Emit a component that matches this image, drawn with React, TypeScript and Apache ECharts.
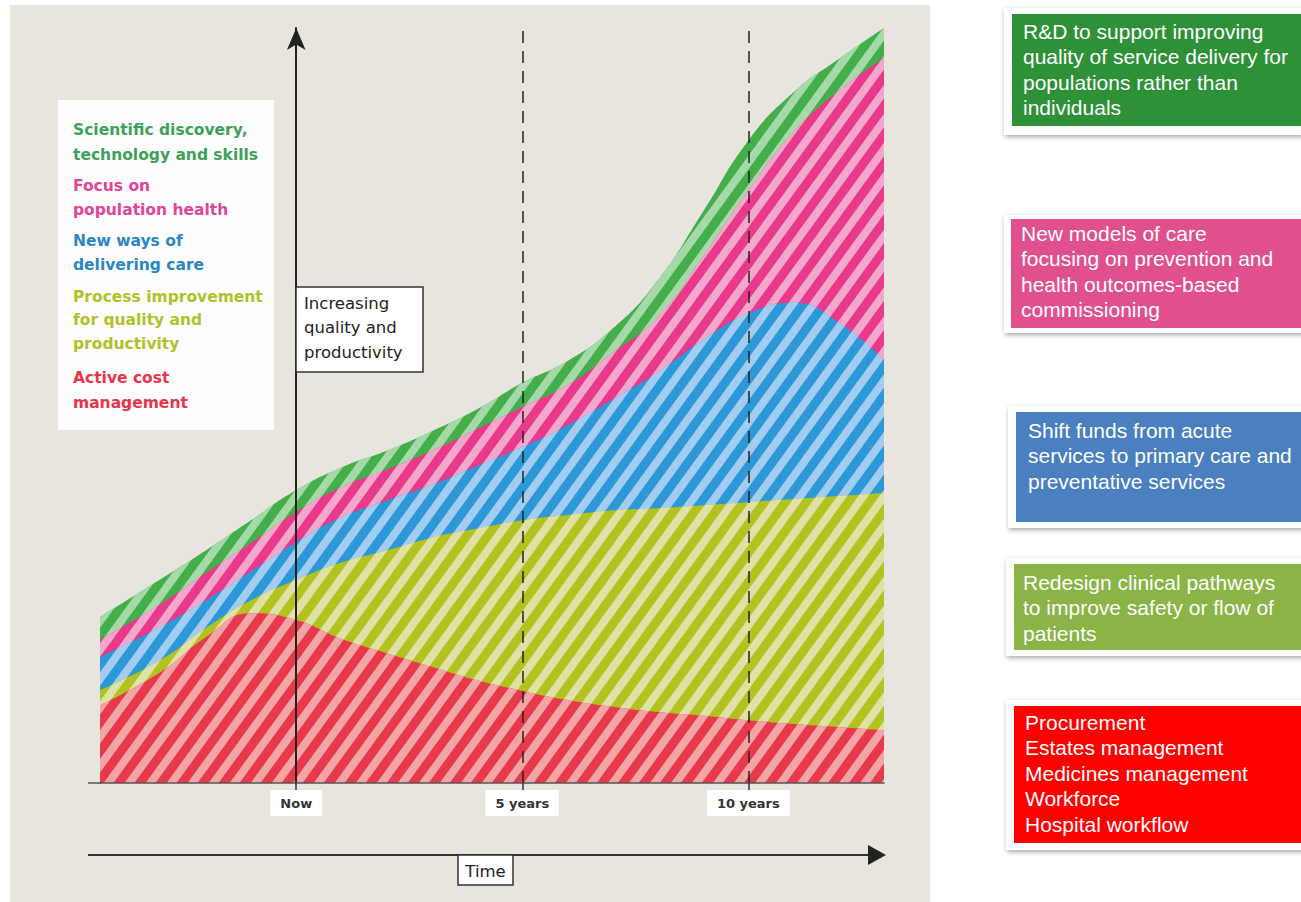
import React, { useEffect, useRef } from "react";
import * as echarts from "echarts";

// Time in years relative to "Now"
const years = [-4.34, -3, -2, -1, 0, 1, 2, 3, 4, 5, 6, 7, 8, 9, 10, 11, 12, 13];

// Stacked layers (bottom to top), relative units
const activeCost = [10.3, 14.7, 19.3, 22.5, 21.6, 19.1, 17.2, 15.4, 13.6, 12.2, 11.0, 10.1, 9.4, 8.9, 8.3, 7.8, 7.4, 7.0];
const processImprovement = [2.0, 1.6, 1.2, 1.7, 5.3, 10.1, 13.6, 17.1, 20.1, 22.6, 24.5, 26.0, 27.0, 27.9, 28.9, 29.8, 30.6, 31.4];
const newWays = [4.4, 4.4, 3.7, 3.8, 5.0, 6.0, 6.6, 7.0, 8.3, 9.7, 11.9, 14.7, 18.0, 21.9, 25.0, 26.0, 23.0, 17.6];
const populationHealth = [2.3, 3.0, 3.6, 3.8, 4.0, 4.0, 4.1, 4.5, 4.9, 5.3, 5.3, 6.2, 7.3, 11.0, 16.3, 22.6, 30.7, 40.0];
const scientific = [3.0, 3.3, 3.0, 3.0, 2.9, 2.6, 2.5, 2.6, 2.6, 3.2, 3.2, 3.2, 4.9, 6.0, 6.6, 5.3, 4.2, 4.0];

const tickValues = [0, 5, 10];
const tickLabels = ["Now", "5 years", "10 years"];
const milestoneLines = [5, 10];

const layers = [
  { name: "Active cost management", values: activeCost, base: "#e8394b", light: "#f3a4a5" },
  { name: "Process improvement for quality and productivity", values: processImprovement, base: "#b2c21e", light: "#dfe2a6" },
  { name: "New ways of delivering care", values: newWays, base: "#2d98d8", light: "#a2cdf0" },
  { name: "Focus on population health", values: populationHealth, base: "#e8398a", light: "#f3a7cb" },
  { name: "Scientific discovery, technology and skills", values: scientific, base: "#44ae4a", light: "#a6d9a8" },
];

const legendGroups = [
  { lines: ["Scientific discovery,", "technology and skills"], color: "#3da15a", ys: [130, 155] },
  { lines: ["Focus on", "population health"], color: "#e2449a", ys: [186, 210] },
  { lines: ["New ways of", "delivering care"], color: "#2b87c4", ys: [241, 265] },
  { lines: ["Process improvement", "for quality and", "productivity"], color: "#b0c12a", ys: [297, 320, 344] },
  { lines: ["Active cost", "management"], color: "#e8354a", ys: [378, 403] },
];

const rightBoxes = [
  { lines: ["R&D to support improving", "quality of service delivery for", "populations rather than", "individuals"], color: "#2e9138", card: [1004, 8, 300, 127], inner: [1012, 14, 295, 112], ty: 31, tx: 1023 },
  { lines: ["New models of care", "focusing on prevention and", "health outcomes-based", "commissioning"], color: "#e0508c", card: [1004, 215, 300, 118], inner: [1011, 219, 295, 109], ty: 233, tx: 1021 },
  { lines: ["Shift funds from acute", "services to primary care and", "preventative services"], color: "#4a7fc0", card: [1008, 406, 300, 122], inner: [1016, 412, 290, 110], ty: 430, tx: 1028 },
  { lines: ["Redesign clinical pathways", "to improve safety or flow of", "patients"], color: "#8ab446", card: [1006, 558, 300, 98], inner: [1014, 564, 292, 86], ty: 582, tx: 1023 },
  { lines: ["Procurement", "Estates management", "Medicines management", "Workforce", "Hospital workflow"], color: "#ff0000", card: [1006, 700, 300, 150], inner: [1014, 706, 292, 137], ty: 722, tx: 1025 },
];

function buildSeries() {
  // cumulative tops of each layer; drawn top layer first so lower layers paint over it
  const cum: number[][] = [];
  layers.forEach((l, k) => {
    cum.push(l.values.map((v, i) => (k === 0 ? 0 : cum[k - 1][i]) + v));
  });
  const out: any[] = [];
  for (let k = layers.length - 1; k >= 0; k--) {
    const l = layers[k];
    const decal = {
      symbol: "rect",
      symbolSize: 1,
      dashArrayX: [1, 0],
      dashArrayY: [8, 9],
      rotation: -Math.PI * 0.3,
      color: l.light,
    };
    const s: any = {
      name: l.name,
      type: "line",
      smooth: 0.5,
      symbol: "none",
      showSymbol: false,
      silent: true,
      data: years.map((x, i) => [x, +cum[k][i].toFixed(2)]),
      lineStyle: { width: 0, color: l.base, decal },
      itemStyle: { color: l.base, decal },
      areaStyle: { color: l.base, opacity: 1, origin: "start" },
    };
    if (k === 0) {
      s.markLine = {
        silent: true,
        symbol: "none",
        label: { show: false },
        lineStyle: { type: [12, 8], color: "#222", width: 1.5 },
        z: 6,
        data: milestoneLines.map((v) => ({ xAxis: v })),
      };
    }
    out.push(s);
  }
  return out;
}

export default function App() {
  const ref = useRef<HTMLDivElement>(null);
  useEffect(() => {
    const chart = echarts.init(ref.current!, null, { renderer: "svg" });
    const graphics: any[] = [];
    graphics.push({ type: "rect", z: -10, shape: { x: 10, y: 5, width: 920, height: 897 }, style: { fill: "#e8e5df" }, silent: true });
    // legend box
    graphics.push({ type: "rect", shape: { x: 58, y: 100, width: 216, height: 330 }, style: { fill: "#fdfdfd" }, silent: true });
    legendGroups.forEach((g) => {
      g.lines.forEach((t, i) => {
        graphics.push({
          type: "text",
          x: 73,
          y: g.ys[i],
          style: { text: t, fill: g.color, font: "bold 15.5px 'DejaVu Sans'", verticalAlign: "middle", align: "left" },
          silent: true,
        });
      });
    });
    // Increasing box
    graphics.push({ type: "rect", z: 20, shape: { x: 296, y: 287, width: 127, height: 85 }, style: { fill: "#fff", stroke: "#333", lineWidth: 1.5 }, silent: true });
    ["Increasing", "quality and", "productivity"].forEach((t, i) => {
      graphics.push({ type: "text", z: 21, x: 304, y: 303 + i * 24.5, style: { text: t, fill: "#222", font: "16.5px 'DejaVu Sans'", verticalAlign: "middle" }, silent: true });
    });
    // x axis extension
    graphics.push({ type: "line", shape: { x1: 88, y1: 783, x2: 101, y2: 783 }, style: { stroke: "#555", lineWidth: 1.5 }, silent: true });
    // time axis
    graphics.push({ type: "line", shape: { x1: 88, y1: 855, x2: 872, y2: 855 }, style: { stroke: "#333", lineWidth: 2 }, silent: true });
    graphics.push({ type: "polygon", shape: { points: [[868, 845], [886, 855], [868, 865]] }, style: { fill: "#222" }, silent: true });
    graphics.push({ type: "rect", shape: { x: 458, y: 855, width: 55, height: 30 }, style: { fill: "#fff", stroke: "#333", lineWidth: 1.5 }, silent: true });
    graphics.push({ type: "text", x: 485.5, y: 871, style: { text: "Time", fill: "#222", font: "16.5px 'DejaVu Sans'", align: "center", verticalAlign: "middle" }, silent: true });
    // right boxes
    rightBoxes.forEach((b) => {
      graphics.push({
        type: "rect",
        shape: { x: b.card[0], y: b.card[1], width: b.card[2], height: b.card[3] },
        style: { fill: "#fff", shadowBlur: 5, shadowColor: "rgba(0,0,0,0.35)", shadowOffsetX: 1, shadowOffsetY: 2 },
        silent: true,
      });
      graphics.push({ type: "rect", shape: { x: b.inner[0], y: b.inner[1], width: b.inner[2], height: b.inner[3] }, style: { fill: b.color }, silent: true });
      b.lines.forEach((t, i) => {
        graphics.push({
          type: "text",
          x: b.tx,
          y: b.ty + i * 25.5,
          style: { text: t, fill: "#fff", font: "21px 'Liberation Sans'", verticalAlign: "middle" },
          silent: true,
        });
      });
    });

    const option: any = {
      animation: false,
      backgroundColor: "#ffffff",
      grid: { left: 100, right: 417, top: 28, bottom: 119 },
      xAxis: {
        type: "value",
        min: -4.34,
        max: 13,
        splitLine: { show: false },
        axisLine: { show: true, onZero: false, lineStyle: { color: "#555", width: 1.5 } },
        axisTick: { show: true, customValues: tickValues, length: 7, lineStyle: { color: "#333", width: 1.5 } },
        axisLabel: {
          show: true,
          customValues: tickValues,
          formatter: (v: number) => tickLabels[tickValues.indexOf(v)] ?? "",
          backgroundColor: "#ffffff",
          padding: [7, 10, 6, 10],
          fontFamily: "'DejaVu Sans'",
          fontWeight: "bold",
          fontSize: 13,
          color: "#333",
          margin: 7,
        },
        z: 10,
      },
      yAxis: {
        type: "value",
        min: 0,
        max: 100,
        splitLine: { show: false },
        axisLabel: { show: false },
        axisTick: { show: false },
        axisLine: { show: true, onZero: true, symbol: ["none", "arrow"], symbolSize: [14, 22], lineStyle: { color: "#222", width: 2 } },
        z: 10,
      },
      graphic: graphics,
      series: buildSeries(),
    };
    chart.setOption(option);
    return () => chart.dispose();
  }, []);
  return <div ref={ref} style={{ position: "fixed", left: 0, top: 0, width: 1301, height: 902 }} />;
}
